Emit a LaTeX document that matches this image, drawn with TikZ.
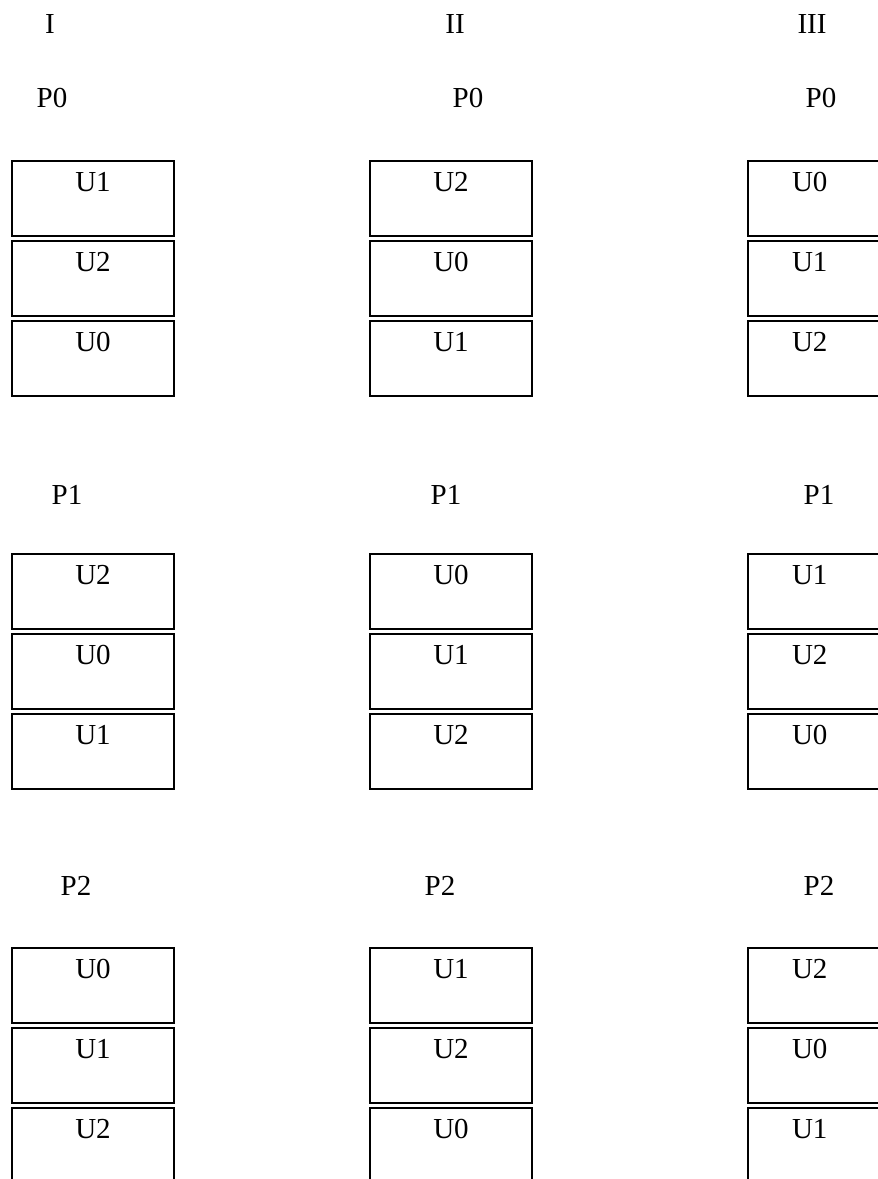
\documentclass[tikz,border=0pt]{standalone}
\usepackage{fontspec}
\setmainfont{Liberation Serif}

\begin{document}
\begin{tikzpicture}[
  x=1pt, y=-1pt,
  slot/.style={draw, line width=2pt, anchor=north west, minimum width=162pt,
    inner xsep=0pt, inner ysep=0pt, text height=30pt, text depth=45pt,
    font=\fontsize{29}{34}\selectfont},
  slotR/.style={slot, text width=162pt, align=left,
    execute at begin node={\hspace*{44pt}}},
  lbl/.style={anchor=base, font=\fontsize{29}{34}\selectfont}
]
\clip (0,0) rectangle (878,1179);
% column headings
\node[lbl] (hI) at (50,33) {I};
\node[lbl] (hII) at (455,33) {II};
\node[lbl] (hIII) at (812,33) {III};
% P0
\node[lbl] (pI0) at (52,107) {P0};
\node[lbl] (pII0) at (468,107) {P0};
\node[lbl] (pIII0) at (821,107) {P0};
\node[slot] (I0a) at (11,160) {U1};
\node[slot] (I0b) at (11,240) {U2};
\node[slot] (I0c) at (11,320) {U0};
\node[slot] (II0a) at (369,160) {U2};
\node[slot] (II0b) at (369,240) {U0};
\node[slot] (II0c) at (369,320) {U1};
\node[slotR] (III0a) at (747,160) {U0};
\node[slotR] (III0b) at (747,240) {U1};
\node[slotR] (III0c) at (747,320) {U2};
% P1
\node[lbl] (pI1) at (67,504) {P1};
\node[lbl] (pII1) at (446,504) {P1};
\node[lbl] (pIII1) at (819,504) {P1};
\node[slot] (I1a) at (11,553) {U2};
\node[slot] (I1b) at (11,633) {U0};
\node[slot] (I1c) at (11,713) {U1};
\node[slot] (II1a) at (369,553) {U0};
\node[slot] (II1b) at (369,633) {U1};
\node[slot] (II1c) at (369,713) {U2};
\node[slotR] (III1a) at (747,553) {U1};
\node[slotR] (III1b) at (747,633) {U2};
\node[slotR] (III1c) at (747,713) {U0};
% P2
\node[lbl] (pI2) at (76,895) {P2};
\node[lbl] (pII2) at (440,895) {P2};
\node[lbl] (pIII2) at (819,895) {P2};
\node[slot] (I2a) at (11,947) {U0};
\node[slot] (I2b) at (11,1027) {U1};
\node[slot] (I2c) at (11,1107) {U2};
\node[slot] (II2a) at (369,947) {U1};
\node[slot] (II2b) at (369,1027) {U2};
\node[slot] (II2c) at (369,1107) {U0};
\node[slotR] (III2a) at (747,947) {U2};
\node[slotR] (III2b) at (747,1027) {U0};
\node[slotR] (III2c) at (747,1107) {U1};
\end{tikzpicture}
\end{document}
